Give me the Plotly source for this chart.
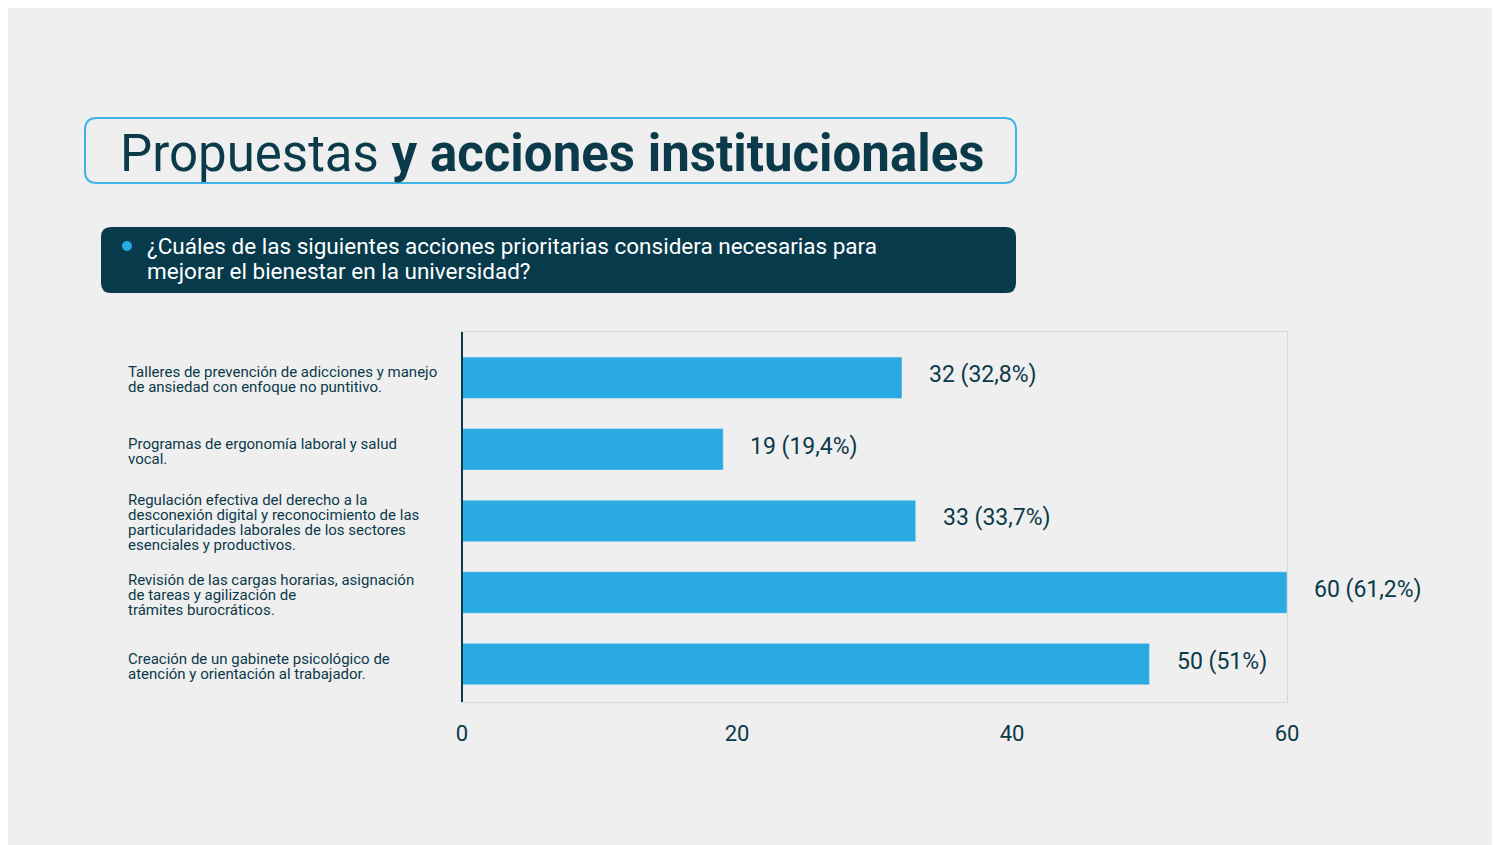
import plotly.graph_objects as go

categories = [
    "Talleres de prevención de adicciones y manejo<br>de ansiedad con enfoque no puntitivo.",
    "Programas de ergonomía laboral y salud<br>vocal.",
    "Regulación efectiva del derecho a la<br>desconexión digital y reconocimiento de las<br>particularidades laborales de los sectores<br>esenciales y productivos.",
    "Revisión de las cargas horarias, asignación<br>de tareas y agilización de<br>trámites burocráticos.",
    "Creación de un gabinete psicológico de<br>atención y orientación al trabajador.",
]
values = [32, 19, 33, 60, 50]
labels = ["32 (32,8%)", "19 (19,4%)", "33 (33,7%)", "60 (61,2%)", "50 (51%)"]
ticks = [0, 20, 40, 60]

OFF = 8
L, R, T, B = 462 - OFF, 1287 - OFF, 332 - OFF, 702 - OFF
W, H = 1500, 845
def px(x): return (x - OFF - L) / (R - L)
def py(y): return (B - (y - OFF)) / (B - T)

def rrect(x0, y0, x1, y1, r):
    X0, X1, Y0, Y1 = px(x0), px(x1), py(y0), py(y1)
    rx = r / (R - L); ry = r / (B - T)
    return (f"M {X0+rx},{Y0} L {X1-rx},{Y0} Q {X1},{Y0} {X1},{Y0-ry} L {X1},{Y1+ry} "
            f"Q {X1},{Y1} {X1-rx},{Y1} L {X0+rx},{Y1} Q {X0},{Y1} {X0},{Y1+ry} "
            f"L {X0},{Y0-ry} Q {X0},{Y0} {X0+rx},{Y0} Z")

dark = "#0b3a4a"
fig = go.Figure(go.Bar(
    y=list(range(len(values))), x=values, orientation="h", width=0.58,
    marker_color="#29aae1",
))

anns = []
for i, c in enumerate(categories):
    lines = c.split("<br>")
    n = len(lines)
    for j, ln in enumerate(lines):
        anns.append(dict(x=px(126), y=i, xref="paper", yref="y", text=ln, showarrow=False,
                         xanchor="left", yanchor="middle", yshift=-(j - (n - 1) / 2) * 15 - 2,
                         font=dict(size=15, color=dark)))
for i, (v, t) in enumerate(zip(values, labels)):
    anns.append(dict(x=v, y=i, xref="x", yref="y", text=t, showarrow=False,
                     xanchor="left", yanchor="middle", xshift=25, yshift=3,
                     font=dict(size=23, color=dark)))
anns.append(dict(x=px(118), y=py(153), xref="paper", yref="paper", showarrow=False,
                 xanchor="left", yanchor="middle",
                 text="Propuestas <b>y acciones institucionales</b>",
                 font=dict(size=51, color=dark)))
for j, ln in enumerate(["¿Cuáles de las siguientes acciones prioritarias considera necesarias para",
                        "mejorar el bienestar en la universidad?"]):
    anns.append(dict(x=px(145), y=py(246 + 25 * j), xref="paper", yref="paper", showarrow=False,
                     xanchor="left", yanchor="middle", text=ln,
                     font=dict(size=22.5, color="white")))

shapes = [
    dict(type="path", xref="paper", yref="paper", path=rrect(85, 118, 1016, 183, 12),
         line=dict(color="#3fb2e6", width=2), fillcolor="rgba(0,0,0,0)"),
    dict(type="path", xref="paper", yref="paper", path=rrect(101, 227, 1016, 293, 10),
         line=dict(width=0), fillcolor="#073b4c"),
    dict(type="circle", xref="paper", yref="paper", x0=px(122), x1=px(132), y0=py(241), y1=py(251),
         fillcolor="#29aae1", line=dict(width=0)),
    dict(type="line", xref="paper", yref="paper", x0=0, x1=0, y0=0, y1=1,
         line=dict(color=dark, width=2)),
]

fig.update_layout(
    width=W, height=H, margin=dict(l=L, r=W - R, t=T, b=H - B),
    paper_bgcolor="#efefef", plot_bgcolor="#efefef", showlegend=False,
    annotations=anns, shapes=shapes, font=dict(family="Roboto"),
    xaxis=dict(range=[0, 60], tickvals=ticks, showgrid=False, zeroline=False,
               showline=True, mirror=True, linecolor="#d8d8d8", linewidth=1,
               tickfont=dict(size=22, color=dark), ticks="", ticklabelstandoff=12),
    yaxis=dict(range=[4.53, -0.64], showticklabels=False, showgrid=False, zeroline=False,
               showline=True, mirror=True, linecolor="#d8d8d8"),
)
fig.write_html("out.html")
